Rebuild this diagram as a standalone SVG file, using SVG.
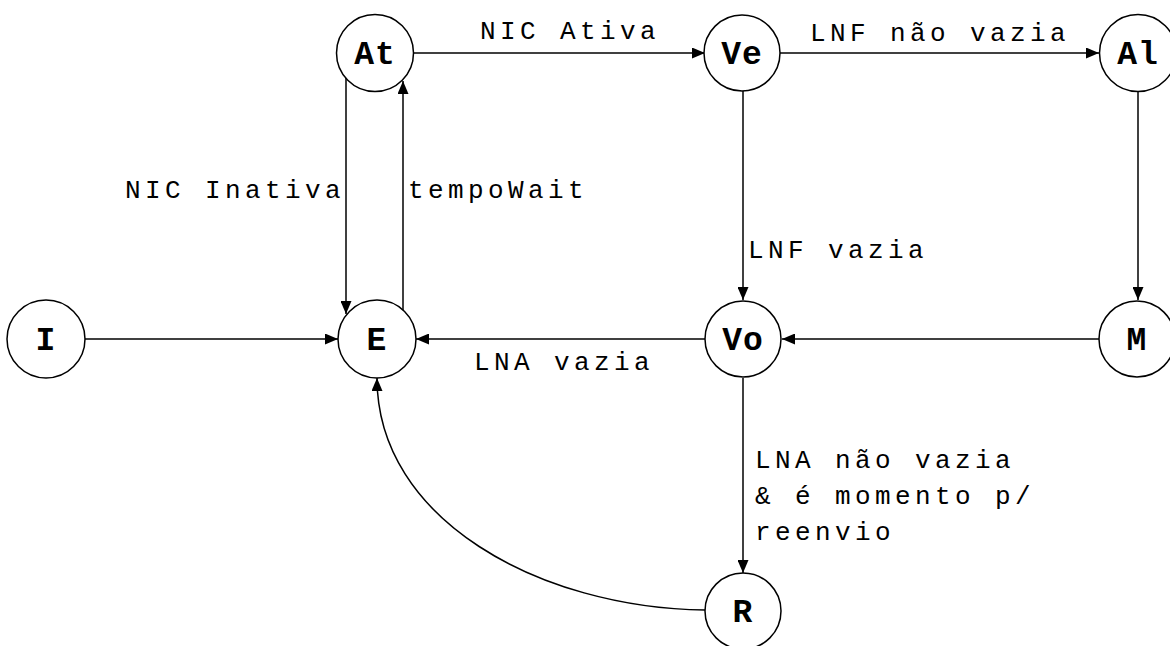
<svg xmlns="http://www.w3.org/2000/svg" width="1170" height="646" viewBox="0 0 1170 646">
<style>
.node{fill:#fff;stroke:#000;stroke-width:1.5}
.nl{font-family:"Courier New","Liberation Mono",monospace;font-weight:bold;font-size:33px;text-anchor:middle;fill:#000;letter-spacing:1px}
.el{font-family:"Courier New","Liberation Mono",monospace;font-size:26px;letter-spacing:4.4px;fill:#000}
.edge{fill:none;stroke:#000;stroke-width:1.5;marker-end:url(#arr)}
</style>
<defs>
<marker id="arr" viewBox="0 0 13 11" refX="13" refY="5.5" markerWidth="13" markerHeight="11" markerUnits="userSpaceOnUse" orient="auto">
<path d="M0 0 L13 5.5 L0 11 Z" fill="#000"/>
</marker>
</defs>
<rect width="1170" height="646" fill="#fff"/>
<g id="connectors">
<path class="edge" d="M413 53 L705 53"/>
<path class="edge" d="M780 53 L1099 53"/>
<path class="edge" d="M346 78 L346 314"/>
<path class="edge" d="M403 310 L403 81"/>
<path class="edge" d="M85 339 L338 339"/>
<path class="edge" d="M705 339 L416 339"/>
<path class="edge" d="M1099 339 L782 339"/>
<path class="edge" d="M743 91 L743 300"/>
<path class="edge" d="M1138 91 L1138 300"/>
<path class="edge" d="M743 378 L743 573"/>
<path class="edge" d="M705 610 C540 608 377 520 377 378"/>
<text class="el" x="480" y="39">NIC Ativa</text>
<text class="el" x="810" y="41">LNF não vazia</text>
<text class="el" x="125" y="198">NIC Inativa</text>
<text class="el" x="408" y="198">tempoWait</text>
<text class="el" x="748" y="258">LNF vazia</text>
<text class="el" x="474" y="370">LNA vazia</text>
<text class="el" x="755" y="468">LNA não vazia</text>
<text class="el" x="755" y="504">&amp; é momento p/</text>
<text class="el" x="755" y="540">reenvio</text>
</g>
<g id="node-At"><circle class="node" cx="375" cy="53" r="38.5"/><text class="nl" x="375" y="64">At</text></g>
<g id="node-Ve"><circle class="node" cx="742" cy="53" r="38"/><text class="nl" x="742" y="64">Ve</text></g>
<g id="node-Al"><circle class="node" cx="1138" cy="53" r="38.5"/><text class="nl" x="1138" y="64">Al</text></g>
<g id="node-I"><circle class="node" cx="46" cy="339" r="39"/><text class="nl" x="46" y="350">I</text></g>
<g id="node-E"><circle class="node" cx="377" cy="339" r="39"/><text class="nl" x="377" y="350">E</text></g>
<g id="node-Vo"><circle class="node" cx="743" cy="339" r="38"/><text class="nl" x="743" y="350">Vo</text></g>
<g id="node-M"><circle class="node" cx="1137" cy="339" r="38"/><text class="nl" x="1137" y="350">M</text></g>
<g id="node-R"><circle class="node" cx="743" cy="611" r="38"/><text class="nl" x="743" y="622">R</text></g>
</svg>
